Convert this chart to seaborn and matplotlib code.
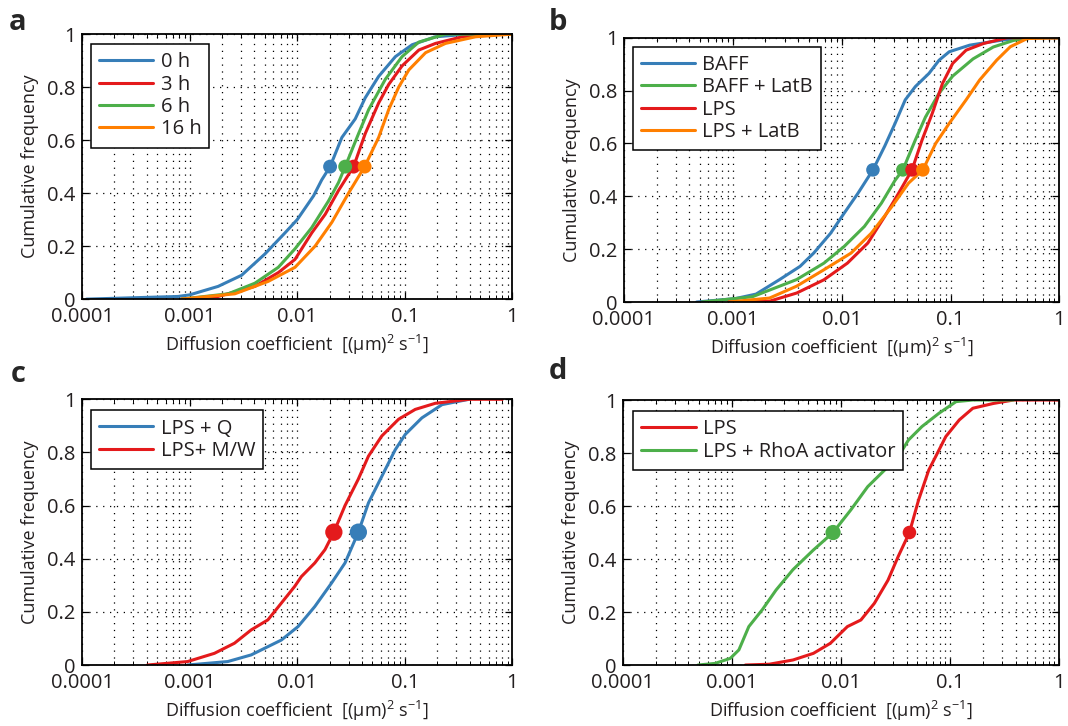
import numpy as np
import pandas as pd
import seaborn as sns
import matplotlib
matplotlib.use("Agg")
import matplotlib.pyplot as plt
from matplotlib.ticker import LogLocator, FixedLocator, NullFormatter

# --- colours (ColorBrewer Set1-like) ---
BLUE, RED, GREEN, ORANGE = "#377eb8", "#e41a1c", "#4daf4a", "#ff7f00"

# --- panel a: time course ---
a_0h_x = [1.1e-4, 7.8e-4, 0.001, 0.00184, 0.00304, 0.0050, 0.0077, 0.010, 0.0142, 0.0169, 0.0202,
          0.026, 0.0346, 0.0429, 0.057, 0.0817, 0.117, 0.193, 0.395, 1.0]
a_0h_y = [0, 0.01, 0.016, 0.048, 0.09, 0.17, 0.25, 0.30, 0.39, 0.45, 0.50,
          0.61, 0.68, 0.76, 0.84, 0.915, 0.96, 0.99, 1.0, 1.0]
a_3h_x = [8.4e-4, 0.00184, 0.00404, 0.00667, 0.00954, 0.01365, 0.0182, 0.0242, 0.0334,
          0.0429, 0.0571, 0.0708, 0.0942, 0.135, 0.193, 0.342, 0.70, 1.0]
a_3h_y = [0, 0.01, 0.048, 0.10, 0.15, 0.25, 0.32, 0.41, 0.50,
          0.625, 0.74, 0.81, 0.88, 0.94, 0.965, 0.99, 1.0, 1.0]
a_6h_x = [8.4e-4, 0.00228, 0.00404, 0.00667, 0.00954, 0.01365, 0.0195, 0.0242, 0.0279,
          0.0372, 0.0461, 0.0660, 0.0942, 0.135, 0.239, 1.0]
a_6h_y = [0, 0.02, 0.06, 0.12, 0.19, 0.27, 0.37, 0.44, 0.50,
          0.625, 0.715, 0.83, 0.915, 0.97, 1.0, 1.0]
a_16h_x = [8.4e-4, 0.00263, 0.00538, 0.00954, 0.01466, 0.0210, 0.030, 0.0423,
           0.0571, 0.0708, 0.0877, 0.109, 0.156, 0.239, 0.455, 1.0]
a_16h_y = [0, 0.02, 0.067, 0.12, 0.20, 0.29, 0.40, 0.50,
           0.61, 0.715, 0.80, 0.865, 0.93, 0.965, 0.99, 1.0]
a_labels = ["0 h", "3 h", "6 h", "16 h"]
a_medians = [0.0202, 0.0334, 0.0279, 0.0423]

# --- panel b: BAFF / LPS with LatB ---
b_baff_x = [4.67e-4, 0.00106, 0.00164, 0.00270, 0.00416, 0.00554, 0.00792, 0.01055, 0.01406, 0.0194,
            0.0249, 0.0309, 0.0384, 0.0475, 0.0634, 0.0785, 0.0973, 0.150, 0.285, 0.471, 1.0]
b_baff_y = [0, 0.013, 0.03, 0.085, 0.135, 0.185, 0.26, 0.336, 0.41, 0.50,
            0.59, 0.675, 0.765, 0.815, 0.865, 0.915, 0.947, 0.972, 0.99, 1.0, 1.0]
b_baff_latb_x = [5.2e-4, 0.00152, 0.00387, 0.00688, 0.01055, 0.0162, 0.0232, 0.0309, 0.0365,
                 0.0475, 0.0589, 0.0785, 0.1047, 0.161, 0.247, 0.380, 0.585, 1.0]
b_baff_latb_y = [0, 0.02, 0.085, 0.147, 0.21, 0.286, 0.374, 0.46, 0.50,
                 0.613, 0.70, 0.79, 0.855, 0.92, 0.965, 0.99, 1.0, 1.0]
b_lps_x = [9.2e-4, 0.00218, 0.00387, 0.00688, 0.0113, 0.0174, 0.0249, 0.0332, 0.0443,
           0.0548, 0.068, 0.0844, 0.1047, 0.139, 0.200, 0.330, 1.0]
b_lps_y = [0, 0.003, 0.034, 0.084, 0.147, 0.223, 0.324, 0.41, 0.50,
           0.613, 0.714, 0.827, 0.903, 0.953, 0.978, 1.0, 1.0]
b_lps_latb_x = [9.2e-4, 0.00218, 0.00387, 0.00688, 0.0122, 0.0187, 0.0288, 0.0412, 0.0557,
                0.0731, 0.0973, 0.139, 0.185, 0.265, 0.354, 0.506, 1.0]
b_lps_latb_y = [0, 0.015, 0.06, 0.122, 0.185, 0.26, 0.36, 0.45, 0.50,
                0.60, 0.676, 0.765, 0.84, 0.915, 0.966, 0.997, 1.0]
b_labels = ["BAFF", "BAFF + LatB", "LPS", "LPS + LatB"]
b_medians = [0.0194, 0.0365, 0.0443, 0.0557]

# --- panel c: LPS + Q vs LPS + M/W ---
c_q_x = [9.57e-4, 0.00226, 0.00373, 0.00712, 0.0102, 0.01456, 0.0208, 0.0278, 0.0370,
         0.0459, 0.0611, 0.0814, 0.101, 0.144, 0.222, 0.394]
c_q_y = [0, 0.013, 0.038, 0.094, 0.145, 0.22, 0.308, 0.384, 0.50,
         0.61, 0.71, 0.81, 0.868, 0.93, 0.98, 1.0]
c_mw_x = [4.05e-4, 9.57e-4, 0.0017, 0.00261, 0.00373, 0.00534, 0.00712, 0.00948, 0.01094, 0.01456,
          0.0181, 0.0219, 0.0278, 0.0370, 0.0459, 0.0611, 0.0875, 0.125, 0.192, 0.394, 0.807]
c_mw_y = [0, 0.013, 0.044, 0.082, 0.132, 0.17, 0.233, 0.296, 0.333, 0.384,
          0.434, 0.50, 0.60, 0.70, 0.786, 0.862, 0.925, 0.962, 0.985, 1.0, 1.0]
c_labels = ["LPS + Q", "LPS+ M/W"]
c_medians = [0.0370, 0.0219]

# --- panel d: LPS vs LPS + RhoA activator ---
d_lps_x = [0.00133, 0.0022, 0.00363, 0.00558, 0.00798, 0.01143, 0.0152, 0.0202, 0.0269, 0.0334,
           0.0423, 0.0513, 0.0636, 0.0734, 0.0910, 0.121, 0.161, 0.248, 0.380, 1.0]
d_lps_y = [0, 0.003, 0.019, 0.044, 0.082, 0.145, 0.17, 0.233, 0.32, 0.41,
           0.50, 0.623, 0.736, 0.786, 0.862, 0.925, 0.969, 0.987, 1.0, 1.0]
d_rhoa_x = [4.9e-4, 7.0e-4, 9.67e-4, 0.00116, 0.00143, 0.00191, 0.00254, 0.00363, 0.00558, 0.00845,
            0.01227, 0.01754, 0.0251, 0.0334, 0.0414, 0.0551, 0.0788, 0.113, 0.161, 0.380]
d_rhoa_y = [0, 0.006, 0.025, 0.057, 0.145, 0.21, 0.283, 0.36, 0.434, 0.50,
            0.585, 0.673, 0.736, 0.786, 0.849, 0.90, 0.95, 0.994, 1.0, 1.0]
d_labels = ["LPS", "LPS + RhoA activator"]
d_medians = [0.0423, 0.00845]

x_ticks = [1e-4, 1e-3, 1e-2, 1e-1, 1]
x_tick_labels = ["0.0001", "0.001", "0.01", "0.1", "1"]
y_ticks = [0, 0.2, 0.4, 0.6, 0.8, 1.0]
y_tick_labels = ["0", "0.2", "0.4", "0.6", "0.8", "1"]

# --- style ---
sns.set_style("ticks")
plt.rcParams["font.family"] = ["Open Sans", "DejaVu Sans"]
plt.rcParams["mathtext.default"] = "regular"
plt.rcParams["axes.linewidth"] = 1.3
plt.rcParams["axes.edgecolor"] = "black"
TICK_FS = 14.5
LABEL_FS = 13
LEG_FS = 14.5
TXT = "#231f20"


def draw_panel(ax, curves, labels, colors, medians, msizes, anchor):
    rows = []
    for lab, (xs, ys) in zip(labels, curves):
        rows.append(pd.DataFrame({"D": xs, "F": ys, "cond": lab}))
    df = pd.concat(rows, ignore_index=True)
    pal = dict(zip(labels, colors))
    sns.lineplot(data=df, x="D", y="F", hue="cond", hue_order=labels, palette=pal,
                 estimator=None, sort=False, lw=2.2, ax=ax, zorder=3)
    med = pd.DataFrame({"D": medians, "F": [0.5] * len(medians), "cond": labels, "sz": msizes})
    sns.scatterplot(data=med, x="D", y="F", hue="cond", hue_order=labels, palette=pal,
                    size="sz", sizes=(min(msizes), max(msizes)), linewidth=0,
                    legend=False, ax=ax, zorder=4)

    ax.set_xscale("log")
    ax.set_xlim(1e-4, 1)
    ax.set_ylim(0, 1)
    ax.xaxis.set_major_locator(FixedLocator(x_ticks))
    ax.set_xticklabels(x_tick_labels)
    ax.xaxis.set_minor_locator(LogLocator(base=10, subs=np.arange(2, 10)))
    ax.xaxis.set_minor_formatter(NullFormatter())
    ax.set_yticks(y_ticks)
    ax.set_yticklabels(y_tick_labels)
    ax.tick_params(which="both", direction="in", top=True, right=True,
                   labelsize=TICK_FS, color="black", labelcolor=TXT)
    ax.tick_params(axis="x", which="both", pad=6)
    ax.tick_params(axis="y", which="both", pad=4.5)
    ax.tick_params(which="major", length=5, width=0.9)
    ax.tick_params(which="minor", length=3, width=0.7)
    ax.grid(True, which="major", axis="both", color="black", ls=(0, (1, 4.5)), lw=0.9)
    ax.grid(True, which="minor", axis="x", color="black", ls=(0, (1, 4.5)), lw=0.9)
    ax.set_axisbelow(True)
    for sp in ax.spines.values():
        sp.set_visible(True)
        sp.set_zorder(5)

    ax.set_xlabel("Diffusion coefficient  [(\u03bcm)$^2$ s$^{-1}$]", fontsize=LABEL_FS,
                  labelpad=4, color=TXT)
    ax.set_ylabel("Cumulative frequency", fontsize=LABEL_FS, labelpad=6, color=TXT)

    h, l = ax.get_legend_handles_labels()
    leg = ax.legend(h, l, loc="upper left", bbox_to_anchor=anchor, borderaxespad=0,
                    fontsize=LEG_FS, frameon=True, fancybox=False, framealpha=1,
                    edgecolor="black", handlelength=2.7, handletextpad=0.35,
                    labelspacing=0.12, borderpad=0.4)
    leg.get_frame().set_linewidth(1.1)
    leg.set_zorder(6)
    for t in leg.get_texts():
        t.set_color(TXT)


fig = plt.figure(figsize=(10.68, 7.26), dpi=100)
ax_a = fig.add_axes([0.0768, 0.588, 0.403, 0.365])
ax_b = fig.add_axes([0.584, 0.584, 0.408, 0.364])
ax_c = fig.add_axes([0.0768, 0.084, 0.403, 0.366])
ax_d = fig.add_axes([0.583, 0.084, 0.409, 0.365])

draw_panel(ax_a, [(a_0h_x, a_0h_y), (a_3h_x, a_3h_y), (a_6h_x, a_6h_y), (a_16h_x, a_16h_y)],
           a_labels, [BLUE, RED, GREEN, ORANGE], a_medians, [100, 100, 100, 100], (0.021, 0.962))
draw_panel(ax_b, [(b_baff_x, b_baff_y), (b_baff_latb_x, b_baff_latb_y),
                  (b_lps_x, b_lps_y), (b_lps_latb_x, b_lps_latb_y)],
           b_labels, [BLUE, GREEN, RED, ORANGE], b_medians, [95, 95, 95, 95], (0.021, 0.966))
draw_panel(ax_c, [(c_q_x, c_q_y), (c_mw_x, c_mw_y)],
           c_labels, [BLUE, RED], c_medians, [155, 155], (0.021, 0.958))
draw_panel(ax_d, [(d_lps_x, d_lps_y), (d_rhoa_x, d_rhoa_y)],
           d_labels, [RED, GREEN], d_medians, [95, 120], (0.0245, 0.958))

for lab, (px, py) in zip("abcd", [(18, 22), (558, 22), (18, 374), (558, 372)]):
    fig.text(px / 1068, 1 - py / 726, lab, fontsize=21, fontweight="bold",
             ha="center", va="center")

fig.savefig("out.png", dpi=100)
